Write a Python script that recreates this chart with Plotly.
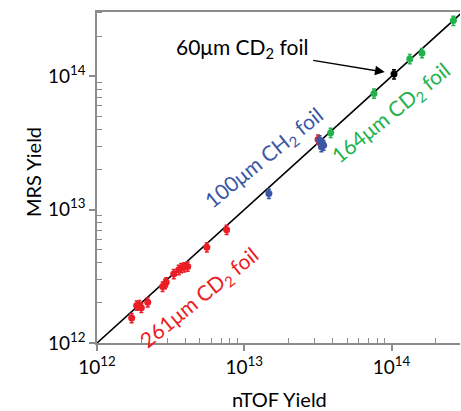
import numpy as np
import plotly.graph_objects as go

# 261um CD2 foil (red)
red_x = [1.72e12, 1.86e12, 1.94e12, 2.00e12, 2.21e12, 2.79e12, 2.90e12, 2.95e12,
         3.32e12, 3.59e12, 3.73e12, 3.92e12, 4.13e12, 5.57e12, 7.59e12, 3.17e13]
red_y = [1.54e12, 1.91e12, 1.93e12, 1.84e12, 2.02e12, 2.65e12, 2.78e12, 2.86e12,
         3.30e12, 3.54e12, 3.66e12, 3.70e12, 3.75e12, 5.23e12, 7.08e12, 3.36e13]
# 100um CH2 foil (blue)
blue_x = [1.47e13, 3.25e13, 3.39e13, 3.34e13, 3.46e13]
blue_y = [1.32e13, 3.32e13, 3.13e13, 2.96e13, 3.04e13]
# 164um CD2 foil (green)
green_x = [3.86e13, 7.60e13, 1.33e14, 1.61e14, 2.63e14]
green_y = [3.78e13, 7.45e13, 1.35e14, 1.50e14, 2.62e14]
# 60um CD2 foil (black)
black_x = [1.04e14]
black_y = [1.04e14]

line_x = [1e12, 3e14]
line_y = [1e12, 3e14]

major_ticks = [1e12, 1e13, 1e14]
major_text = ["10<sup>12</sup>", "10<sup>13</sup>", "10<sup>14</sup>"]

RED = "#ed1c24"
BLUE = "#3a56a5"
GREEN = "#22b24c"
FONT = "Lato"

minor_vals = [k * 10.0 ** e for e in (12, 13, 14) for k in range(2, 10)]

fig = go.Figure()
fig.add_trace(go.Scatter(x=line_x, y=line_y, mode="lines",
                         line=dict(color="black", width=1.6), hoverinfo="skip"))

def add_pts(xs, ys, color):
    fig.add_trace(go.Scatter(
        x=xs, y=ys, mode="markers",
        marker=dict(color=color, size=7, line=dict(width=0)),
        error_y=dict(type="percent", value=8, color=color, thickness=1.5, width=2),
        error_x=dict(type="percent", value=4, color=color, thickness=1.5, width=0),
    ))

add_pts(red_x, red_y, RED)
add_pts(blue_x, blue_y, BLUE)
add_pts(green_x, green_y, GREEN)
add_pts(black_x, black_y, "black")

axis_common = dict(
    type="log", showgrid=False, zeroline=False,
    showline=True, linecolor="#8c8c8c", linewidth=1.5,
    ticks="outside", ticklen=6, tickcolor="#8c8c8c", tickwidth=1.5,
    tickvals=major_ticks, ticktext=major_text,
    tickfont=dict(family=FONT, size=19, color="black"),
    minor=dict(ticks="inside", ticklen=5, tickcolor="#8c8c8c", tickwidth=1.2,
               tickvals=minor_vals, showgrid=False),
)

fig.update_layout(
    width=461, height=411,
    margin=dict(l=97, r=1, t=12, b=68),
    paper_bgcolor="white", plot_bgcolor="white",
    showlegend=False,
    xaxis=dict(range=[12, 14.465], mirror=True, **axis_common),
    yaxis=dict(range=[12, 14.483], **axis_common),
)

ann = [
    dict(text="60μm CD<sub>2</sub> foil", x=12.982, y=14.213, showarrow=False,
         font=dict(family=FONT, size=21, color="black")),
    dict(text="100μm CH<sub>2</sub> foil", x=13.138, y=13.386, showarrow=False,
         textangle=-39, font=dict(family=FONT, size=21, color=BLUE)),
    dict(text="164μm CD<sub>2</sub> foil", x=14.002, y=13.724, showarrow=False,
         textangle=-39, font=dict(family=FONT, size=21, color=GREEN)),
    dict(text="261μm CD<sub>2</sub> foil", x=12.696, y=12.341, showarrow=False,
         textangle=-39, font=dict(family=FONT, size=21, color=RED)),
    dict(text="", x=13.954, y=14.032, ax=13.458, ay=14.122, axref="x", ayref="y",
         showarrow=True, arrowhead=2, arrowsize=1.3, arrowwidth=1.5, arrowcolor="black"),
    dict(text="nTOF Yield", xref="paper", yref="paper",
         x=(279 - 97) / 363, y=-(399 - 343) / 331, showarrow=False,
         xanchor="center", yanchor="middle",
         font=dict(family=FONT, size=20, color="black")),
    dict(text="MRS Yield", xref="paper", yref="paper",
         x=-(97 - 33) / 363, y=(343 - 172) / 331, showarrow=False, textangle=-90,
         xanchor="center", yanchor="middle",
         font=dict(family=FONT, size=20, color="black")),
]
fig.update_layout(annotations=ann)

fig.write_html("out.html", config={"displayModeBar": False},
               post_script="document.body.style.margin='0px';")
